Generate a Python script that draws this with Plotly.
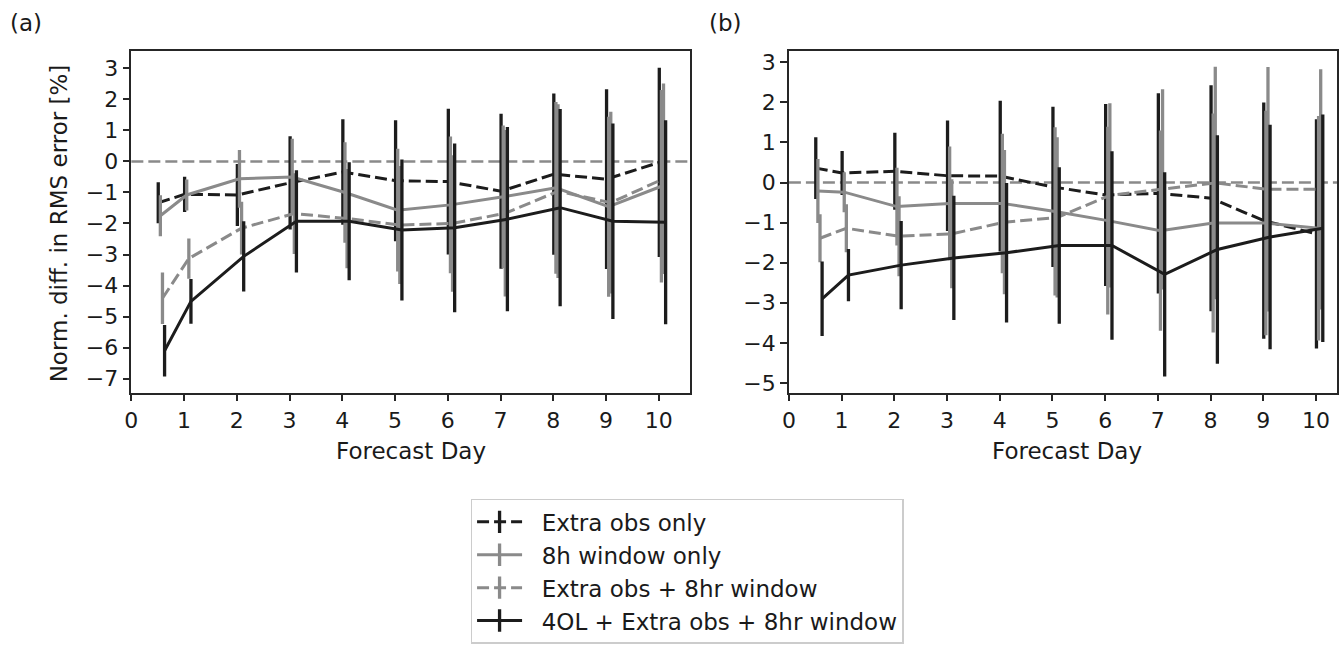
import plotly.graph_objects as go

# ---------------- data ----------------
days = [0.5, 1, 2, 3, 4, 5, 6, 7, 8, 9, 10]
series_names = ["Extra obs only", "8h window only", "Extra obs + 8hr window",
                "4OL + Extra obs + 8hr window"]
x_offsets = [0.01, 0.05, 0.09, 0.13]

# panel (a)
a_extra = [-1.33, -1.06, -1.08, -0.69, -0.34, -0.62, -0.65, -0.96, -0.41, -0.57, -0.03]
a_extra_err = [0.66, 0.57, 1.0, 1.5, 1.7, 1.95, 2.35, 2.5, 2.6, 2.9, 3.05]
a_8h = [-1.75, -1.08, -0.56, -0.5, -1.0, -1.57, -1.4, -1.14, -0.85, -1.46, -0.8]
a_8h_err = [0.66, 0.5, 0.93, 1.23, 1.62, 1.98, 2.2, 2.3, 2.77, 2.9, 3.1]
a_both = [-4.41, -3.13, -2.15, -1.68, -1.84, -2.05, -2.0, -1.67, -0.96, -1.33, -0.56]
a_both_err = [0.83, 0.65, 0.85, 1.3, 1.6, 1.9, 2.2, 2.68, 2.8, 2.93, 3.07]
a_4ol = [-6.1, -4.51, -3.06, -1.93, -1.93, -2.21, -2.14, -1.86, -1.49, -1.93, -1.96]
a_4ol_err = [0.83, 0.72, 1.13, 1.65, 1.9, 2.27, 2.72, 2.97, 3.18, 3.15, 3.29]

# panel (b)
b_extra = [0.36, 0.24, 0.28, 0.17, 0.16, -0.11, -0.31, -0.27, -0.39, -0.95, -1.28]
b_extra_err = [0.77, 0.55, 0.96, 1.38, 1.88, 2.0, 2.27, 2.5, 2.82, 2.95, 2.86]
b_8h = [-0.21, -0.24, -0.6, -0.52, -0.52, -0.72, -0.95, -1.2, -1.01, -1.01, -1.14]
b_8h_err = [0.8, 0.5, 0.97, 1.42, 1.74, 2.1, 2.34, 2.5, 2.73, 2.8, 2.8]
b_both = [-1.39, -1.14, -1.34, -1.28, -0.99, -0.87, -0.32, -0.17, -0.01, -0.17, -0.17]
b_both_err = [0.6, 0.6, 1.0, 1.36, 1.8, 2.0, 2.3, 2.5, 2.9, 3.05, 3.0]
b_4ol = [-2.9, -2.31, -2.06, -1.88, -1.75, -1.57, -1.57, -2.29, -1.67, -1.36, -1.14]
b_4ol_err = [0.93, 0.65, 1.1, 1.55, 1.74, 1.95, 2.35, 2.55, 2.85, 2.8, 2.84]

x_ticks_vals = [0, 1, 2, 3, 4, 5, 6, 7, 8, 9, 10]
a_y_ticks = [-7, -6, -5, -4, -3, -2, -1, 0, 1, 2, 3]
b_y_ticks = [-5, -4, -3, -2, -1, 0, 1, 2, 3]

# ---------------- style ----------------
BLACK = "#1c1c1c"
GRAY = "#8a8a8a"
DASH = "12px,5px"
styles = [(BLACK, DASH), (GRAY, "solid"), (GRAY, DASH), (BLACK, "solid")]
FONT = "DejaVu Sans"
W, H = 1341, 648

fig = go.Figure()

panels = [
    ("x", "y", [a_extra, a_8h, a_both, a_4ol], [a_extra_err, a_8h_err, a_both_err, a_4ol_err]),
    ("x2", "y2", [b_extra, b_8h, b_both, b_4ol], [b_extra_err, b_8h_err, b_both_err, b_4ol_err]),
]
for xa, ya, vals, errs in panels:
    for i in range(4):
        c, d = styles[i]
        fig.add_trace(go.Scatter(
            x=[dd + x_offsets[i] for dd in days], y=vals[i],
            mode="lines", xaxis=xa, yaxis=ya, showlegend=False,
            line=dict(color=c, width=3, dash=d),
            error_y=dict(type="data", array=errs[i], visible=True,
                         thickness=3.3, width=0, color=c),
            hoverinfo="skip",
        ))

# legend entries (line + vertical error-bar glyph)
for i in range(4):
    c, d = styles[i]
    fig.add_trace(go.Scatter(
        x=[None], y=[None], mode="lines+markers",
        name="\u00a0\u00a0" + series_names[i],
        legendgroup=f"g{i}",
        line=dict(color=c, width=3, dash=d),
        marker=dict(symbol="line-ns", size=20, color=c, line=dict(width=3.3, color=c)),
    ))

def px_x(p):
    return p / W

def px_y(p):
    return (H - p) / H

ydom = [px_y(394), px_y(50)]
axis_common = dict(
    showline=True, linecolor="#262626", linewidth=1.5, mirror=True,
    ticks="outside", ticklen=7, tickwidth=1.5, tickcolor="#262626",
    showgrid=False, zeroline=False,
    tickfont=dict(family=FONT, size=22, color="#1a1a1a"),
)

fig.update_layout(
    width=W, height=H,
    margin=dict(l=0, r=0, t=0, b=0),
    paper_bgcolor="white", plot_bgcolor="white",
    font=dict(family=FONT, color="#1a1a1a"),
    xaxis=dict(domain=[px_x(125), px_x(687)], range=[0, 10.6], anchor="y",
               tickvals=x_ticks_vals, **axis_common),
    yaxis=dict(domain=ydom, range=[-7.45, 3.57], anchor="x",
               tickvals=a_y_ticks, **axis_common),
    xaxis2=dict(domain=[px_x(786), px_x(1337)], range=[0, 10.4], anchor="y2",
                tickvals=x_ticks_vals, **axis_common),
    yaxis2=dict(domain=ydom, range=[-5.24, 3.29], anchor="x2",
                tickvals=b_y_ticks, **axis_common),
    legend=dict(
        x=px_x(466), y=px_y(501), xanchor="left", yanchor="top",
        bordercolor="#cccccc", borderwidth=1.5, bgcolor="white",
        font=dict(family=FONT, size=23, color="#1a1a1a"),
        itemwidth=45, tracegroupgap=0, traceorder="normal",
    ),
)

# zero reference lines
for xr, yr in [("x domain", "y"), ("x2 domain", "y2")]:
    fig.add_shape(type="line", xref=xr, yref=yr, x0=0, x1=1, y0=0, y1=0,
                  line=dict(color=GRAY, width=2.5, dash=DASH), layer="below")

ann = dict(showarrow=False, xanchor="center", yanchor="middle",
           font=dict(family=FONT, size=23, color="#1a1a1a"))
fig.add_annotation(text="(a)", x=px_x(19), y=px_y(22), xref="paper", yref="paper", **ann)
fig.add_annotation(text="(b)", x=px_x(722), y=px_y(22), xref="paper", yref="paper", **ann)
fig.add_annotation(text="Norm. diff. in RMS error [%]", textangle=-90,
                   x=px_x(52), y=px_y(224), xref="paper", yref="paper", **ann)
fig.add_annotation(text="Forecast Day", x=px_x(406), y=px_y(453), xref="paper", yref="paper", **ann)
fig.add_annotation(text="Forecast Day", x=px_x(1066), y=px_y(453), xref="paper", yref="paper", **ann)

fig.write_html("out.html")
